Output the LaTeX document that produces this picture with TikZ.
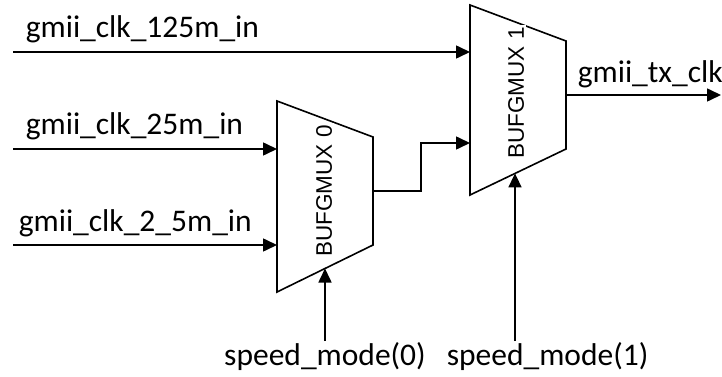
\documentclass[tikz,border=0pt]{standalone}
\usepackage{fontspec}
\setmainfont{Carlito}
\newfontfamily\muxfont{Liberation Sans}
\usepackage{tikz}
\usetikzlibrary{arrows.meta, positioning}

\begin{document}
\begin{tikzpicture}[x=1pt, y=-1pt, line width=1.6pt,
    sig/.style={-{Triangle[length=14pt, width=13pt]}},
    lbl/.style={anchor=base west, inner sep=0pt, font=\fontsize{31.5}{36}\selectfont},
    muxlbl/.style={rotate=90, fill=white, inner sep=2.5pt, font=\muxfont\fontsize{22.5}{26}\selectfont}]
  \useasboundingbox (0,0) rectangle (722,377);

  % the two muxes
  \draw (277,101) coordinate (m0tl) -- (373,137) coordinate (m0tr)
     -- (373,245) coordinate (m0br) -- (277,292) coordinate (m0bl) -- cycle;
  \draw (470,5) coordinate (m1tl) -- (566,41) coordinate (m1tr)
     -- (566,149) coordinate (m1br) -- (470,195) coordinate (m1bl) -- cycle;
  \node[muxlbl] (mux0) at (324,191) {BUFGMUX 0};
  \node[muxlbl] (mux1) at (516,93) {BUFGMUX 1};

  % pins
  \coordinate (m0in1) at (277,149);
  \coordinate (m0in2) at (277,245);
  \coordinate (m0sel) at (325,268.5);
  \coordinate (m0out) at (373,191);
  \coordinate (m1in1) at (470,52);
  \coordinate (m1in2) at (470,143);
  \coordinate (m1sel) at (515,173.4);
  \coordinate (m1out) at (566,95);

  % inputs
  \node[lbl] (clk125) at (25,38) {gmii\_clk\_125m\_in};
  \node[lbl] (clk25) at (25,135) {gmii\_clk\_25m\_in};
  \node[lbl] (clk2p5) at (18,231) {gmii\_clk\_2\_5m\_in};
  \coordinate (in125) at (13,52);
  \coordinate (in25) at (13,149);
  \coordinate (in2p5) at (13,245);
  \draw[sig] (in125) -- (m1in1);
  \draw[sig] (in25) -- (m0in1);
  \draw[sig] (in2p5) -- (m0in2);

  % mux0 into mux1
  \draw[sig] (m0out) -- ++(48,0) |- (m1in2);

  % output
  \node[lbl] (txclk) at (577,83) {gmii\_tx\_clk};
  \coordinate (out) at (721,95);
  \draw[sig] (m1out) -- (out);

  % selects
  \node[lbl, anchor=base] (sel0) at (325,365) {speed\_mode(0)};
  \node[lbl] (sel1) at (446,365) {speed\_mode(1)};
  \coordinate (s0) at (325,341);
  \coordinate (s1) at (515,341);
  \draw[sig] (s0) -- (m0sel);
  \draw[sig] (s1) -- (m1sel);
\end{tikzpicture}
\end{document}
